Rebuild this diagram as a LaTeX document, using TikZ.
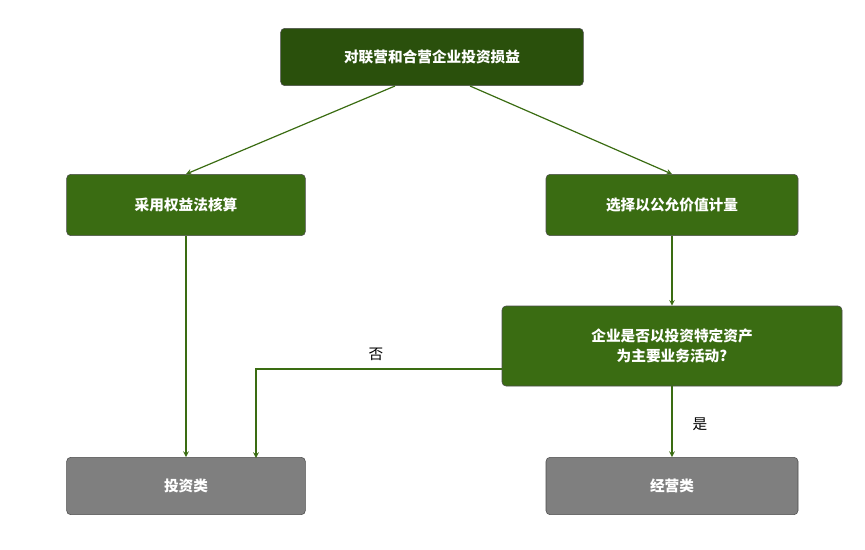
\documentclass[tikz,border=0pt]{standalone}
\usepackage{fontspec}
\setmainfont{Noto Sans CJK SC}
\usetikzlibrary{arrows}
\usetikzlibrary{shapes}
\definecolor{topgreen}{RGB}{42,80,12}
\definecolor{boxgreen}{RGB}{58,108,18}
\definecolor{boxgray}{RGB}{127,127,127}
\tikzset{
  box/.style={draw=black!70, rounded corners=3pt, text=white, font=\bfseries\fontsize{11}{15}\selectfont, align=center, inner sep=0pt},
  link/.style={draw=boxgreen, line width=0.9pt, -stealth}
}
\newcommand\bx[6]{
  \node[box, fill=#6, minimum width=#4*0.75pt, minimum height=#5*0.75pt] (#1) at (#2,#3) {#1text};
}

\begin{document}
\begin{tikzpicture}[x=0.75pt,y=-0.75pt]
\useasboundingbox (0,0) rectangle (865,550);
\node[box, fill=topgreen, minimum width=227pt, minimum height=43pt] (top) at (432,57) {对联营和合营企业投资损益};
\node[box, fill=boxgreen, minimum width=179pt, minimum height=46pt] (equity) at (186,205) {采用权益法核算};
\node[box, fill=boxgreen, minimum width=189pt, minimum height=46pt] (fair) at (672,205) {选择以公允价值计量};
\node[box, fill=boxgreen, minimum width=255pt, minimum height=60pt] (ask) at (672,346) {企业是否以投资特定资产\\为主要业务活动?};
\node[box, fill=boxgray, minimum width=179pt, minimum height=43pt] (invest) at (186,486) {投资类};
\node[box, fill=boxgray, minimum width=189pt, minimum height=43pt] (oper) at (672,486) {经营类};

\draw[link] (395,86) -- (equity.north);
\draw[link] (470,86) -- (fair.north);
\draw[link] (equity) -- (invest);
\draw[link] (fair) -- (ask);
\draw[link] (ask.west |- 0,369) -| (256,458);
\draw[link] (ask) -- (oper);
\node[font=\fontsize{11}{13}\selectfont] (no) at (376,354) {否};
\node[font=\fontsize{11}{13}\selectfont] (yes) at (700,424) {是};
\end{tikzpicture}
\end{document}
